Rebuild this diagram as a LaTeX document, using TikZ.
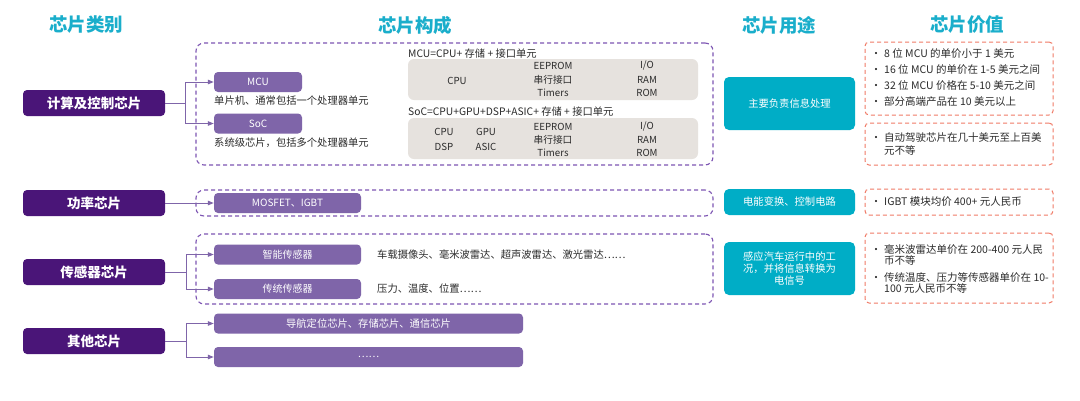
\documentclass[tikz,border=0pt]{standalone}
\usepackage{fontspec}
\setmainfont{Noto Sans CJK SC}
\usetikzlibrary{arrows.meta}
\XeTeXlinebreaklocale "zh"
\definecolor{hdr}{HTML}{1AAECB}
\definecolor{dpur}{HTML}{4A1578}
\definecolor{mpur}{HTML}{7F65A9}
\definecolor{dashc}{HTML}{7D55B3}
\definecolor{cyanb}{HTML}{00ADC6}
\definecolor{redd}{HTML}{F07A66}
\definecolor{grayb}{HTML}{E6E2DE}
\definecolor{txt}{HTML}{2B2B2B}
\newcommand\bu{\makebox[0pt][c]{•}\hspace*{8pt}}
\newcommand\bi{\hspace*{8pt}}
\begin{document}
\begin{tikzpicture}[x=1pt,y=-1pt,
  hdrtext/.style={text=hdr, font=\fontsize{18.5}{20}\selectfont\bfseries},
  cat/.style={fill=dpur, rounded corners=4pt, text=white, font=\fontsize{13.5}{15}\selectfont\bfseries, minimum width=142pt, minimum height=26pt, inner sep=0pt},
  sub/.style={fill=mpur, rounded corners=4pt, text=white, font=\fontsize{10}{12}\selectfont, minimum height=20pt, inner sep=0pt},
  dbox/.style={draw=dashc, line width=1.1pt, dash pattern=on 4pt off 3pt, rounded corners=8pt, inner sep=0pt},
  rbox/.style={draw=redd, line width=1pt, dash pattern=on 4pt off 3pt, rounded corners=4pt, inner sep=0pt, minimum width=188pt},
  cbox/.style={fill=cyanb, rounded corners=5pt, text=white, font=\fontsize{10.3}{12.2}\selectfont, minimum width=131pt, inner sep=0pt, align=center},
  gbox/.style={fill=grayb, rounded corners=6pt, minimum width=290pt, minimum height=41pt, inner sep=0pt},
  small/.style={text=txt, font=\fontsize{10.3}{12}\selectfont, inner sep=0pt},
  gtxt/.style={text=txt, font=\fontsize{9.7}{11.5}\selectfont, inner sep=0pt},
  btxt/.style={text=txt, font=\fontsize{10.5}{11.5}\selectfont, inner sep=0pt, align=left, anchor=west},
  conn/.style={draw=mpur, line width=1pt, -{Triangle[length=6pt,width=4.5pt]}}
]
\useasboundingbox (0,0) rectangle (1080,400);
\fill[white] (0,0) rectangle (1080,400);

% headers
\node[hdrtext] (h1) at (86,25) {芯片类别};
\node[hdrtext] (h2) at (415,25) {芯片构成};
\node[hdrtext] (h3) at (779,25) {芯片用途};
\node[hdrtext] (h4) at (967,25) {芯片价值};

% dashed group boxes
\node[dbox, minimum width=517pt, minimum height=122pt] (g1) at (454.5,104) {};
\node[dbox, minimum width=517pt, minimum height=26pt] (g2) at (454.5,203) {};
\node[dbox, minimum width=517pt, minimum height=70pt] (g3) at (454.5,269) {};

% categories
\node[cat] (c1) at (94,103) {计算及控制芯片};
\node[cat] (c2) at (94,203) {功率芯片};
\node[cat] (c3) at (94,272) {传感器芯片};
\node[cat] (c4) at (94,341) {其他芯片};

% sub boxes
\node[sub, minimum width=88pt] (mcu) at (258,82) {MCU};
\node[sub, minimum width=88pt] (soc) at (258,123.5) {SoC};
\node[small, anchor=west] (mcut) at (214,101) {单片机、通常包括一个处理器单元};
\node[small, anchor=west] (soct) at (214,143) {系统级芯片，包括多个处理器单元};
\node[sub, minimum width=147pt] (mos) at (287.5,203) {MOSFET、IGBT};
\node[sub, minimum width=147pt] (smart) at (287.5,254.5) {智能传感器};
\node[sub, minimum width=147pt] (trad) at (287.5,289) {传统传感器};
\node[small, anchor=west] (smartt) at (377,254.5) {车载摄像头、毫米波雷达、超声波雷达、激光雷达……};
\node[small, anchor=west] (tradt) at (377,289) {压力、温度、位置……};
\node[sub, minimum width=309pt, font=\fontsize{10.3}{12}\selectfont] (nav) at (368.5,323.5) {导航定位芯片、存储芯片、通信芯片};
\node[sub, minimum width=309pt] (etc) at (368.5,357) {……};

% connectors
\draw[conn] (c1.east) -- ++(20,0) |- (mcu.west);
\draw[conn] (c1.east) -- ++(20,0) |- (soc.west);
\draw[conn] (c2.east) -- (mos.west);
\draw[conn] (c3.east) -- ++(21,0) |- (smart.west);
\draw[conn] (c3.east) -- ++(21,0) |- (trad.west);
\draw[conn] (c4.east) -- ++(21,0) |- (nav.west);
\draw[conn] (c4.east) -- ++(21,0) |- (etc.west);

% composition
\node[small, anchor=west] (mcuf) at (408,54) {MCU=CPU+ 存储 + 接口单元};
\node[gbox] (gb1) at (553,79.5) {};
\node[gtxt] (cpu1) at (457,81) {CPU};
\node[gtxt] (e1) at (553,66) {EEPROM};
\node[gtxt] (s1) at (553,80) {串行接口};
\node[gtxt] (t1) at (553,93) {Timers};
\node[gtxt] (io1) at (647,66) {I/O};
\node[gtxt] (ram1) at (647,80) {RAM};
\node[gtxt] (rom1) at (647,93) {ROM};

\node[small, anchor=west] (socf) at (408,112) {SoC=CPU+GPU+DSP+ASIC+ 存储 + 接口单元};
\node[gbox] (gb2) at (553,138.5) {};
\node[gtxt] (cpu2) at (444,132) {CPU};
\node[gtxt] (gpu2) at (486,132) {GPU};
\node[gtxt] (dsp2) at (444,147) {DSP};
\node[gtxt] (asic2) at (486,147) {ASIC};
\node[gtxt] (e2) at (553,127) {EEPROM};
\node[gtxt] (s2) at (553,140) {串行接口};
\node[gtxt] (t2) at (553,153) {Timers};
\node[gtxt] (io2) at (647,127) {I/O};
\node[gtxt] (ram2) at (647,140) {RAM};
\node[gtxt] (rom2) at (647,153) {ROM};

% usage
\node[cbox, minimum height=53pt] (u1) at (789.5,103.5) {主要负责信息处理};
\node[cbox, minimum height=26pt] (u2) at (789.5,202) {电能变换、控制电路};
\node[cbox, minimum height=53pt] (u3) at (789.5,268.5) {感应汽车运行中的工\\况，并将信息转换为\\电信号};

% value
\node[rbox, minimum height=73pt] (v1) at (959,78.5) {};
\node[btxt] (v1t) at (876,78) {\bu 8 位 MCU 的单价小于 1 美元\\[4.5pt]\bu 16 位 MCU 的单价在 1-5 美元之间\\[4.5pt]\bu 32 位 MCU 价格在 5-10 美元之间\\[4.5pt]\bu 部分高端产品在 10 美元以上};
\node[rbox, minimum height=42pt] (v2) at (959,144) {};
\node[btxt] (v2t) at (876,144) {\bu 自动驾驶芯片在几十美元至上百美\\[1pt]\bi 元不等};
\node[rbox, minimum height=26pt] (v3) at (959,202) {};
\node[btxt] (v3t) at (876,202) {\bu IGBT 模块均价 400+ 元人民币};
\node[rbox, minimum height=70pt] (v4) at (959,268) {};
\node[btxt] (v4t) at (876,269) {\bu 毫米波雷达单价在 200-400 元人民\\\bi 币不等\\[5pt]\bu 传统温度、压力等传感器单价在 10-\\\bi 100 元人民币不等};
\end{tikzpicture}
\end{document}
